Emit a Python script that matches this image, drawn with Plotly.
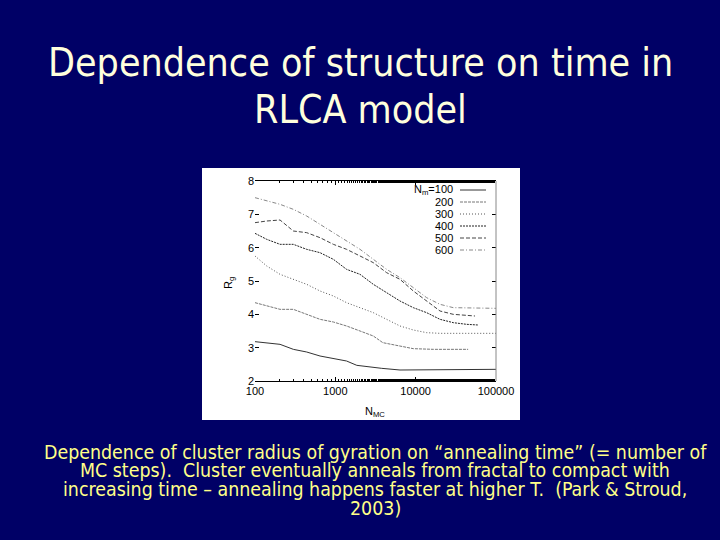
import plotly.graph_objects as go

# page is 720x540; the html body keeps its 8px margin, so the figure is 704x524
W, H = 704, 524
OFF = 8

# ---- data ----
series_names = ["100", "200", "300", "400", "500", "600"]

n_100 = [100, 205, 300, 440, 645, 945, 1380, 1850, 2450, 3780, 6380, 16600, 100000]
rg_100 = [3.18, 3.10, 2.95, 2.87, 2.75, 2.68, 2.60, 2.47, 2.43, 2.38, 2.33, 2.33, 2.35]

n_200 = [100, 140, 205, 300, 440, 645, 945, 1380, 2030, 2970, 3900, 6380, 9350, 16600, 45000]
rg_200 = [4.35, 4.25, 4.15, 4.15, 4.00, 3.85, 3.77, 3.65, 3.50, 3.35, 3.15, 3.05, 2.97, 2.95, 2.95]

n_300 = [100, 140, 205, 300, 440, 645, 945, 1380, 2030, 2970, 4350, 6380, 9350, 13700, 20100, 100000]
rg_300 = [5.75, 5.45, 5.20, 5.05, 4.90, 4.70, 4.55, 4.35, 4.20, 4.05, 3.85, 3.65, 3.53, 3.45, 3.43, 3.43]

n_400 = [100, 140, 205, 300, 440, 645, 945, 1380, 2030, 2970, 4350, 6380, 9350, 13700, 20100, 29400, 43100, 60000]
rg_400 = [6.43, 6.25, 6.10, 6.10, 5.95, 5.85, 5.65, 5.35, 5.20, 4.90, 4.65, 4.40, 4.20, 4.05, 3.85, 3.75, 3.70, 3.68]

n_500 = [100, 140, 205, 300, 440, 645, 945, 1380, 2030, 2970, 4350, 6380, 9350, 13700, 20100, 29400, 54800]
rg_500 = [6.75, 6.80, 6.83, 6.50, 6.45, 6.30, 6.10, 5.95, 5.75, 5.55, 5.25, 5.05, 4.70, 4.40, 4.10, 4.00, 3.95]

n_600 = [100, 205, 300, 440, 645, 945, 1380, 2030, 2970, 4350, 6380, 9350, 13700, 20100, 29400, 100000]
rg_600 = [7.50, 7.30, 7.15, 6.95, 6.70, 6.45, 6.20, 5.95, 5.65, 5.35, 5.10, 4.80, 4.50, 4.30, 4.20, 4.18]

x_tickvals = [100, 1000, 10000, 100000]
x_ticktext = ["100", "1000", "10000", "100000"]
y_tickvals = [2, 3, 4, 5, 6, 7, 8]

xs = [n_100, n_200, n_300, n_400, n_500, n_600]
ys = [rg_100, rg_200, rg_300, rg_400, rg_500, rg_600]
styles = [
    dict(color="#333333", dash="solid"),
    dict(color="#777777", dash="3px,1px"),
    dict(color="#555555", dash="1px,2px"),
    dict(color="#222222", dash="2px,1px"),
    dict(color="#444444", dash="4px,2px"),
    dict(color="#888888", dash="4px,2px,1px,2px"),
]

fig = go.Figure()
for name, x, y, st in zip(series_names, xs, ys, styles):
    fig.add_trace(go.Scatter(x=x, y=y, mode="lines", name=name,
                             line=dict(width=1, **st), showlegend=False, hoverinfo="skip"))

def px(x):
    return (x - OFF) / W

def py(y):
    return 1 - (y - OFF) / H

# plot area (page pixels)
x0, x1 = 255, 496
y0, y1 = 181, 381

shapes = [
    # white picture background
    dict(type="rect", xref="paper", yref="paper", x0=px(202), x1=px(520),
         y0=py(420), y1=py(168), fillcolor="white", line=dict(width=0), layer="below"),
    # right border
    dict(type="line", xref="paper", yref="paper", x0=px(x1), x1=px(x1),
         y0=py(y1), y1=py(y0), line=dict(color="#888888", width=1)),
]

annotations = []
# legend (gnuplot style: text then sample)
for i, (name, st) in enumerate(zip(series_names, styles)):
    yy = 190 + 12 * i
    label = "N<sub>m</sub>=" + name if i == 0 else name
    annotations.append(dict(xref="paper", yref="paper", x=px(455), y=py(yy),
                            text=label, showarrow=False, xanchor="right", yanchor="middle",
                            font=dict(family="Liberation Sans", size=11, color="black")))
    shapes.append(dict(type="line", xref="paper", yref="paper", x0=px(460), x1=px(486),
                       y0=py(yy), y1=py(yy), line=dict(width=1, **st)))

# axis titles
annotations.append(dict(xref="paper", yref="paper", x=px(375), y=py(412), text="N<sub>MC</sub>",
                        showarrow=False, xanchor="center", yanchor="middle",
                        font=dict(family="Liberation Sans", size=11, color="black")))
annotations.append(dict(xref="paper", yref="paper", x=px(229), y=py(283), text="R<sub>g</sub>",
                        showarrow=False, textangle=-90, xanchor="center", yanchor="middle",
                        font=dict(family="Liberation Sans", size=11, color="black")))

# slide title
title_font = dict(family="DejaVu Sans Condensed, Noto Sans, sans-serif", size=39, color="#FFFFDD")
annotations.append(dict(xref="paper", yref="paper", x=px(360), y=py(63),
                        text="Dependence of structure on time in", showarrow=False,
                        xanchor="center", yanchor="middle", font=title_font))
annotations.append(dict(xref="paper", yref="paper", x=px(360), y=py(110),
                        text="RLCA model", showarrow=False,
                        xanchor="center", yanchor="middle", font=title_font))

# caption
caption_lines = [
    "Dependence of cluster radius of gyration on \u201cannealing time\u201d (= number of",
    "MC steps).  Cluster eventually anneals from fractal to compact with",
    "increasing time \u2013 annealing happens faster at higher T.  (Park &amp; Stroud,",
    "2003)",
]
cap_y = [452, 470, 489, 508]
cap_font = dict(family="DejaVu Sans Condensed, Noto Sans, sans-serif", size=19.4, color="#FFFF88")
for t, yy in zip(caption_lines, cap_y):
    annotations.append(dict(xref="paper", yref="paper", x=px(375), y=py(yy), text=t,
                            showarrow=False, xanchor="center", yanchor="middle", font=cap_font))

fig.update_layout(
    width=W, height=H, autosize=False,
    margin=dict(l=0, r=0, t=0, b=0, pad=0, autoexpand=False),
    paper_bgcolor="#000066", plot_bgcolor="white",
    shapes=shapes, annotations=annotations, hovermode=False,
    xaxis=dict(type="log", range=[2, 5], domain=[px(x0), px(x1)], automargin=False,
               tickvals=x_tickvals, ticktext=x_ticktext, ticks="inside", ticklen=4,
               showline=True, linecolor="black", linewidth=1, mirror="allticks",
               showgrid=False, zeroline=False,
               minor=dict(ticks="inside", ticklen=2, showgrid=False, tickcolor="black"),
               tickfont=dict(family="Liberation Sans", size=11, color="black"), tickcolor="black"),
    yaxis=dict(range=[2, 8], domain=[py(y1), py(y0)], tickvals=y_tickvals, automargin=False,
               ticks="inside", ticklen=4, showline=False, mirror="allticks",
               showgrid=False, zeroline=False, tickcolor="black",
               tickfont=dict(family="Liberation Sans", size=11, color="black")),
)

fig.write_html("out.html", config={"displayModeBar": False},
               post_script="document.body.style.background='#000066';")
